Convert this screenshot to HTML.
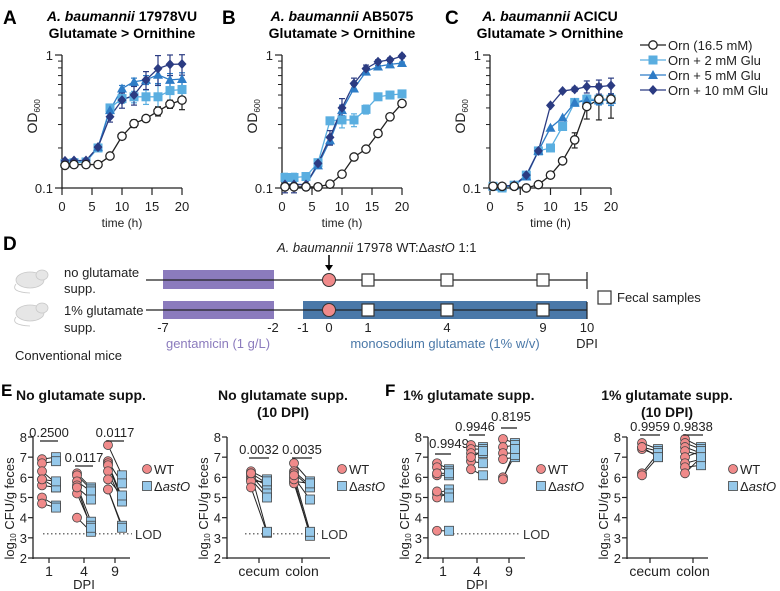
<!DOCTYPE html>
<html><head><meta charset="utf-8"><style>
html,body{margin:0;padding:0;background:#fff}
svg{display:block;font-family:"Liberation Sans",sans-serif}
</style></head><body>
<svg id="fig" width="780" height="591" viewBox="0 0 780 591" xmlns="http://www.w3.org/2000/svg">
<g id="static" font-family="Liberation Sans, sans-serif">
<text x="3" y="24" font-size="19" font-weight="bold">A</text>
<text x="222" y="24" font-size="19" font-weight="bold">B</text>
<text x="445" y="24" font-size="19" font-weight="bold">C</text>
<text x="122" y="21" font-size="14" font-weight="bold" text-anchor="middle"><tspan font-style="italic">A. baumannii</tspan> 17978VU</text>
<text x="122" y="38" font-size="14" font-weight="bold" text-anchor="middle">Glutamate &gt; Ornithine</text>
<text x="342" y="21" font-size="14" font-weight="bold" text-anchor="middle"><tspan font-style="italic">A. baumannii</tspan> AB5075</text>
<text x="342" y="38" font-size="14" font-weight="bold" text-anchor="middle">Glutamate &gt; Ornithine</text>
<text x="550" y="21" font-size="14" font-weight="bold" text-anchor="middle"><tspan font-style="italic">A. baumannii</tspan> ACICU</text>
<text x="550" y="38" font-size="14" font-weight="bold" text-anchor="middle">Glutamate &gt; Ornithine</text>

<text x="3" y="250" font-size="19" font-weight="bold">D</text>
<text x="1" y="396" font-size="17" font-weight="bold">E</text>
<text x="385" y="396" font-size="17" font-weight="bold">F</text>

<!-- panel D -->
<g fill="#e6e6e6" stroke="#c8c8c8" stroke-width="0.8">
<ellipse cx="30" cy="280" rx="14" ry="8"/><ellipse cx="42" cy="275" rx="6" ry="5"/><path d="M16 284 Q10 292 30 293" fill="none"/></g>
<g fill="#e6e6e6" stroke="#c8c8c8" stroke-width="0.8">
<ellipse cx="30" cy="313" rx="14" ry="8"/><ellipse cx="42" cy="308" rx="6" ry="5"/><path d="M16 317 Q10 325 30 326" fill="none"/></g>
<g font-size="13" fill="#222">
<text x="64" y="277">no glutamate</text>
<text x="64" y="293">supp.</text>
<text x="64" y="315">1% glutamate</text>
<text x="64" y="332">supp.</text>
<text x="15" y="360">Conventional mice</text>
</g>
<rect x="163" y="270" width="111" height="19" fill="#8b7bbd"/>
<rect x="163" y="301" width="111" height="18" fill="#8b7bbd"/>
<rect x="303" y="301" width="284" height="18" fill="#4a78a8"/>
<line x1="146" y1="280" x2="587" y2="280" stroke="#222" stroke-width="1.2"/>
<line x1="146" y1="310" x2="587" y2="310" stroke="#222" stroke-width="1.2"/>
<line x1="587" y1="272" x2="587" y2="289" stroke="#222" stroke-width="1.2"/>
<line x1="587" y1="302" x2="587" y2="319" stroke="#222" stroke-width="1.2"/>
<line x1="329" y1="255" x2="329" y2="268" stroke="#000" stroke-width="1.5"/>
<path d="M325 265 L329 271 L333 265 Z" fill="#000"/>
<text x="277" y="252" font-size="13" fill="#222"><tspan font-style="italic">A. baumannii</tspan> 17978 WT:Δ<tspan font-style="italic">astO</tspan> 1:1</text>
<circle cx="329" cy="280" r="6.5" fill="#f08a8a" stroke="#333"/>
<circle cx="329" cy="310" r="6.5" fill="#f08a8a" stroke="#333"/>
<g fill="#fff" stroke="#333" stroke-width="1.2">
<rect x="362" y="274" width="12" height="12"/>
<rect x="441" y="274" width="12" height="12"/>
<rect x="537" y="274" width="12" height="12"/>
<rect x="362" y="304" width="12" height="12"/>
<rect x="441" y="304" width="12" height="12"/>
<rect x="537" y="304" width="12" height="12"/>
<rect x="598" y="291" width="13" height="13"/>
</g>
<text x="617" y="302" font-size="13" fill="#222">Fecal samples</text>
<g font-size="13" fill="#222" text-anchor="middle">
<text x="163" y="332">-7</text>
<text x="273" y="332">-2</text>
<text x="303" y="332">-1</text>
<text x="329" y="332">0</text>
<text x="368" y="332">1</text>
<text x="447" y="332">4</text>
<text x="543" y="332">9</text>
<text x="587" y="332">10</text>
<text x="218" y="348" fill="#8b7bbd">gentamicin (1 g/L)</text>
<text x="445" y="348" fill="#4a78a8">monosodium glutamate (1% w/v)</text>
<text x="587" y="348">DPI</text>
</g>

<!-- E/F titles -->
<g font-size="14" font-weight="bold" fill="#111">
<text x="16" y="400">No glutamate supp.</text>
<text x="283" y="400" text-anchor="middle">No glutamate supp.</text>
<text x="283" y="417" text-anchor="middle">(10 DPI)</text>
<text x="403" y="400">1% glutamate supp.</text>
<text x="667" y="400" text-anchor="middle">1% glutamate supp.</text>
<text x="667" y="417" text-anchor="middle">(10 DPI)</text>
</g>
</g>
<g id="dyn"></g>
</svg>
<script>
// ---- Growth curve data (OD600) ----
const times = [0.5,2,4,6,8,10,12,14,16,18,20];
const seriesNames = ["Orn (16.5 mM)","Orn + 2 mM Glu","Orn + 5 mM Glu","Orn + 10 mM Glu"];
const odTicks = [0.1, 1];
const timeTicks = [0,5,10,15,20];
const aOrn = [0.148,0.15,0.15,0.15,0.174,0.245,0.305,0.333,0.378,0.427,0.458];
const aGlu2 = [0.153,0.155,0.157,0.2,0.40,0.47,0.485,0.485,0.485,0.54,0.55];
const aGlu5 = [0.157,0.16,0.16,0.203,0.385,0.56,0.63,0.65,0.71,0.65,0.66];
const aGlu10 = [0.16,0.161,0.161,0.203,0.343,0.458,0.5,0.65,0.79,0.85,0.855];
const bOrn = [0.102,0.102,0.102,0.102,0.107,0.127,0.171,0.196,0.257,0.343,0.432];
const bGlu2 = [0.12,0.12,0.122,0.155,0.32,0.325,0.325,0.39,0.485,0.5,0.51];
const bGlu5 = [0.107,0.107,0.106,0.148,0.228,0.385,0.56,0.75,0.82,0.85,0.87];
const bGlu10 = [0.106,0.106,0.106,0.153,0.24,0.4,0.61,0.79,0.89,0.92,0.98];
const cOrn = [0.103,0.103,0.103,0.1,0.106,0.125,0.16,0.23,0.41,0.465,0.465];
const cGlu2 = [0.103,0.1,0.105,0.125,0.19,0.2,0.29,0.44,0.465,0.465,0.465];
const cGlu5 = [0.103,0.103,0.105,0.122,0.19,0.284,0.338,0.438,0.456,0.456,0.46];
const cGlu10 = [0.103,0.103,0.105,0.125,0.19,0.418,0.536,0.552,0.578,0.578,0.59];
const aOrnErr = [0,0,0,0,0,0,0.02,0,0.03,0.03,0.07];
const aGluErr = [0,0,0,0,0.03,0.06,0.08,0.1,0.2,0.15,0.15];
const bOrnErr = [0,0,0,0,0,0,0,0,0,0,0.02];
const bGluErr = [0.015,0.015,0.01,0.01,0.03,0.07,0.06,0.05,0.03,0.03,0.03];
const cOrnErr = [0,0,0,0,0,0,0,0.03,0.08,0.14,0.13];
const cGluErr = [0,0,0,0,0,0,0,0.02,0.06,0.07,0.08];

// ---- Colonization data (log10 CFU/g) ----
const cfuTicks = [2,3,4,5,6,7,8];
const dpiCats = ["1","4","9"];
const organCats = ["cecum","colon"];
const e1WT = [[6.9,6.7,6.3,5.9,5.6,5.9,5.0,4.7],[6.2,6.1,5.8,5.5,5.6,5.2,4.0,5.5],[7.6,6.8,6.7,6.6,6.3,5.9,5.4,5.4]];
const e1KO = [[7.0,6.8,5.7,5.5,5.5,5.8,4.6,4.5],[5.5,5.4,5.3,4.9,3.8,3.6,3.3,3.5],[6.1,5.7,5.0,4.9,4.8,5.1,3.6,3.5]];
const e1P = ["0.2500","0.0117","0.0117"];
const e2WT = [[6.3,6.2,6.0,6.1,5.9,5.8,5.5,6.2],[6.7,6.3,6.2,6.0,5.8,5.7,5.9,6.1]];
const e2KO = [[5.9,5.7,5.6,5.2,5.0,5.8,3.25,3.3],[5.8,5.6,5.5,4.9,5.7,3.2,3.1,3.3]];
const e2P = ["0.0032","0.0035"];
const f1WT = [[6.7,6.5,6.1,6.2,5.2,5.0,5.3,3.35],[7.6,7.4,7.2,6.8,6.4,7.0],[7.9,7.5,7.2,6.9,6.0,5.9]];
const f1KO = [[6.4,6.3,6.1,6.2,5.4,5.2,5.0,3.35],[7.5,7.4,7.2,6.7,6.1,7.3],[7.7,7.6,7.2,7.0,7.1,7.4]];
const f1P = ["0.9949","0.9946","0.8195"];
const f2WT = [[7.7,7.5,7.4,7.5,6.2,6.1],[7.9,7.7,7.5,7.3,7.0,6.7,6.5,6.2]];
const f2KO = [[7.4,7.3,7.1,7.0,7.2,7.0],[7.5,7.4,7.2,7.1,7.3,6.9,6.6,7.0]];
const f2P = ["0.9959","0.9838"];
const lodValue = 3.2;

const NS="http://www.w3.org/2000/svg";
const root=document.getElementById('dyn');
function mk(tag,attrs,parent){const e=document.createElementNS(NS,tag);for(const k in attrs)e.setAttribute(k,attrs[k]);(parent||root).appendChild(e);return e;}
function txt(s,attrs,parent){const e=mk('text',attrs,parent);e.textContent=s;return e;}

const colors=["#222","#5aaee0","#2e7cc6","#2b3b82"];
function marker(kind,x,y,color,g){
  let e;
  if(kind===0) e=mk('circle',{cx:x,cy:y,r:4.2,fill:'#fff',stroke:color,'stroke-width':1.3},g);
  else if(kind===1) e=mk('rect',{x:x-4.5,y:y-4.5,width:9,height:9,fill:color},g);
  else if(kind===2) e=mk('path',{d:`M${x} ${y-5} L${x+5} ${y+4} L${x-5} ${y+4} Z`,fill:color},g);
  else e=mk('path',{d:`M${x} ${y-5} L${x+4.5} ${y} L${x} ${y+5} L${x-4.5} ${y} Z`,fill:color},g);
  return e;
}

function growthPanel(id,x0,x1,sets,ornErr,gluErr){
  const y1=55,y0=188;
  const xOf=t=>x0+t*(x1-x0)/20;
  const yOf=v=>y0-(Math.log10(v)+1)*(y0-y1);
  const g=mk('g',{});
  
  
  const ya=mk('line',{x1:x0,y1:y1,x2:x0,y2:y0+1,stroke:'#222','stroke-width':1.3},g);
  
  
  const xa=mk('line',{x1:x0,y1:y0,x2:x1,y2:y0,stroke:'#222','stroke-width':1.3},g);
  
  
  for(let m=2;m<=9;m++){const yy=yOf(m/10);mk('line',{x1:x0-4,y1:yy,x2:x0,y2:yy,stroke:'#222','stroke-width':1},g);}
  odTicks.forEach(v=>{const yy=yOf(v);mk('line',{x1:x0-7,y1:yy,x2:x0,y2:yy,stroke:'#222','stroke-width':1.2},g);
    const t=txt(String(v),{x:x0-9,y:yy+5,'font-size':13,'text-anchor':'end',fill:'#222'},g);
    
    });
  timeTicks.forEach(v=>{const xx=xOf(v);mk('line',{x1:xx,y1:y0,x2:xx,y2:y0+7,stroke:'#222','stroke-width':1.2},g);
    const t=txt(String(v),{x:xx,y:211,'font-size':13,'text-anchor':'middle',fill:'#222'},g);
    
    });
  const xt=txt('time (h)',{x:(x0+x1)/2,y:227,'font-size':12,'text-anchor':'middle',fill:'#222'},g);
  
  
  const yt=mk('text',{transform:`translate(${x0-25},${(y0+y1)/2+12}) rotate(-90)`,'font-size':14,fill:'#222'},g);
  yt.innerHTML='OD<tspan font-size="8" dy="3">600</tspan>';
  
  
  sets.forEach((vals,si)=>{
    const sg=mk('g',{},g);
    
    
    const errs=si===0?ornErr:gluErr;
    const f=si===0?1:(si===1?0.6:(si===2?0.5:1));
    vals.forEach((v,i)=>{const e=errs[i]*f;if(e>0.008){const xx=xOf(times[i]);
      const hi=yOf(v+e),lo=yOf(Math.max(v-e,0.092));
      mk('line',{x1:xx,y1:hi,x2:xx,y2:lo,stroke:colors[si],'stroke-width':1.2},sg);
      mk('line',{x1:xx-3,y1:hi,x2:xx+3,y2:hi,stroke:colors[si],'stroke-width':1.2},sg);
      mk('line',{x1:xx-3,y1:lo,x2:xx+3,y2:lo,stroke:colors[si],'stroke-width':1.2},sg);}});
    const pts=vals.map((v,i)=>xOf(times[i])+','+yOf(v)).join(' ');
    mk('polyline',{points:pts,fill:'none',stroke:colors[si],'stroke-width':1.3},sg);
  });
  [1,2,3,0].forEach(si=>{sets[si].forEach((v,i)=>{
    const m=marker(si,xOf(times[i]),yOf(v),colors[si],g);
    
    });});
}
growthPanel('a',62,182,[aOrn,aGlu2,aGlu5,aGlu10],aOrnErr,aGluErr);
growthPanel('b',282,402,[bOrn,bGlu2,bGlu5,bGlu10],bOrnErr,bGluErr);
growthPanel('c',490,611,[cOrn,cGlu2,cGlu5,cGlu10],cOrnErr,cGluErr);

// legend
seriesNames.forEach((n,i)=>{
  const y=45+i*15;
  const lg=mk('g',{});
  
  
  mk('line',{x1:640,y1:y,x2:666,y2:y,stroke:colors[i],'stroke-width':1.3},lg);
  marker(i,653,y,colors[i],lg);
  txt(n,{x:668,y:y+5,'font-size':13,fill:'#222'},lg);
});

// dot plots
function dotPanel(id,ax,axEnd,centers,off,labels,wt,ko,pv,pX,pY,barY,opts){
  const yOf=v=>558-(v-2)*(558-437)/6;
  const g=mk('g',{});
  
  
  const ya=mk('line',{x1:ax,y1:437,x2:ax,y2:559,stroke:'#222','stroke-width':1.3},g);
  
  
  const xa=mk('line',{x1:ax,y1:558,x2:axEnd,y2:558,stroke:'#222','stroke-width':1.3},g);
  
  
  cfuTicks.forEach(v=>{const yy=yOf(v);mk('line',{x1:ax-5,y1:yy,x2:ax,y2:yy,stroke:'#222','stroke-width':1.2},g);
    const t=txt(String(v),{x:ax-6,y:yy+5,'font-size':13,'text-anchor':'end',fill:'#222'},g);
    
    });
  const yt=mk('text',{transform:`translate(${ax-19},${(558+437)/2+62}) rotate(-90)`,'font-size':13,fill:'#222'},g);
  yt.innerHTML='log<tspan font-size="8" dy="2">10</tspan><tspan dy="-2"> CFU/g feces</tspan>';
  
  
  labels.forEach((l,i)=>{const xx=centers[i];mk('line',{x1:xx,y1:558,x2:xx,y2:563,stroke:'#222','stroke-width':1.2},g);
    const t=txt(l,{x:xx,y:576,'font-size':14,'text-anchor':'middle',fill:'#222'},g);
    
    });
  if(opts.dpi){const t=txt('DPI',{x:centers[1],y:589,'font-size':13,'text-anchor':'middle',fill:'#222'},g);
    
    }
  if(opts.lod){const ly=yOf(lodValue);
    const l=mk('line',{x1:opts.lod[0],y1:ly,x2:opts.lod[1],y2:ly,stroke:'#444','stroke-width':1.2,'stroke-dasharray':'1.5,2.5'},g);
    
    
    const t=txt('LOD',{x:opts.lod[1]+3,y:ly+5,'font-size':13,fill:'#333'},g);
    
    }
  centers.forEach((c,i)=>{
    const xw=c-off,xk=c+off;
    wt[i].forEach((v,j)=>{mk('line',{x1:xw,y1:yOf(v),x2:xk,y2:yOf(ko[i][j]),stroke:'#222','stroke-width':1},g);});
    wt[i].forEach((v,j)=>{const m=mk('circle',{cx:xw,cy:yOf(v),r:4.5,fill:'#f08a8a',stroke:'#444','stroke-width':0.8},g);
      
      });
    ko[i].forEach((v,j)=>{const m=mk('rect',{x:xk-4.5,y:yOf(v)-4.5,width:9,height:9,fill:'#95c8ea',stroke:'#444','stroke-width':0.8},g);
      
      });
    const b=mk('line',{x1:xw-2,y1:barY[i],x2:xk+2,y2:barY[i],stroke:'#222','stroke-width':1.3},g);
    
    
    const t=txt(pv[i],{x:pX[i],y:pY[i],'font-size':13,'text-anchor':'middle',fill:'#222'},g);
    
    
  });
  const lx=opts.legX;
  const c1=mk('circle',{cx:lx,cy:469,r:4.5,fill:'#f08a8a',stroke:'#444','stroke-width':0.8},g);
  
  
  const t1=txt('WT',{x:lx+7,y:474,'font-size':13,fill:'#222'},g);
  
  
  const r1=mk('rect',{x:lx-4.5,y:481.5,width:9,height:9,fill:'#95c8ea',stroke:'#444','stroke-width':0.8},g);
  
  
  const t2=mk('text',{x:lx+7,y:491,'font-size':13,fill:'#222'},g);
  t2.innerHTML='Δ<tspan font-style="italic">astO</tspan>';
  
  
}
dotPanel('e1',33,130,[49,84,115],7,dpiCats,e1WT,e1KO,e1P,[49,84,115],[437,462,437],[441,466,441],{dpi:true,lod:[43,132],legX:147});
dotPanel('e2',227,330,[259,302],8,organCats,e2WT,e2KO,e2P,[259,302],[454,454],[458,458],{lod:[245,318],legX:342});
dotPanel('f1',428,525,[443,477,509],6,dpiCats,f1WT,f1KO,f1P,[449,475,511],[448,431,421],[454,435,428],{dpi:true,lod:[445,520],legX:541});
dotPanel('f2',627,708,[650,693],8,organCats,f2WT,f2KO,f2P,[650,693],[431,431],[435,435],{legX:733});
</script>
</body></html>
